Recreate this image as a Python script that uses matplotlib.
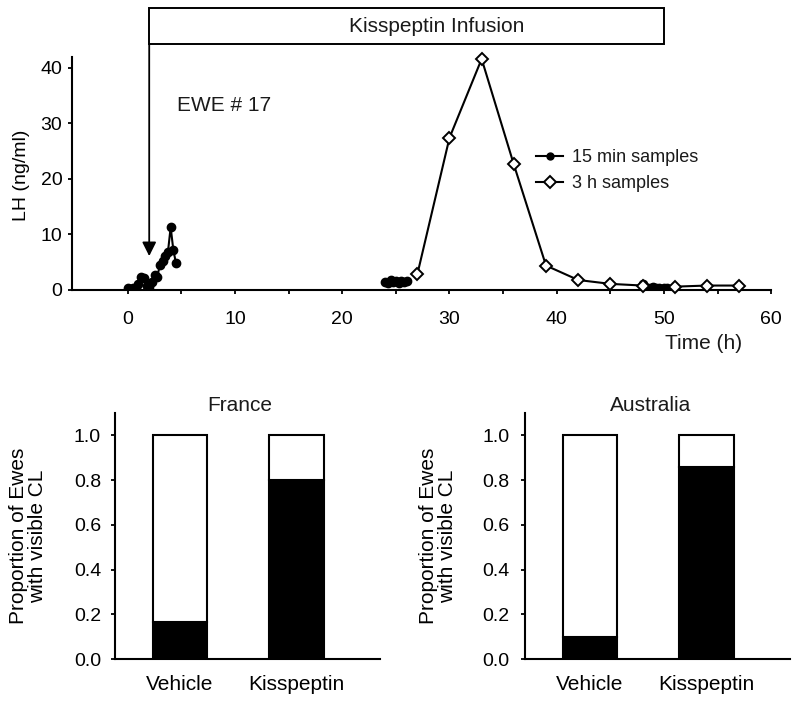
import matplotlib
matplotlib.use("Agg")
import matplotlib.pyplot as plt
from matplotlib.patches import Rectangle
from matplotlib.lines import Line2D

plt.rcParams['font.family'] = ['Liberation Sans', 'DejaVu Sans']
plt.rcParams['text.color'] = '#1a1a1a'

# 1) data -----------------------------------------------------------------
# LH (ng/ml), 15 min samples, three sampling windows
t_15a = [0, 0.25, 0.5, 0.75, 1.0, 1.25, 1.5, 1.75, 2.0, 2.25,
         2.5, 2.75, 3.0, 3.25, 3.5, 3.75, 4.0, 4.25, 4.5]
lh_15a = [0.3, 0.2, 0.3, 0.4, 1.0, 2.4, 2.2, 0.8, 0.6, 1.5,
          2.7, 2.4, 4.5, 5.2, 6.2, 6.9, 11.3, 7.2, 4.8]
t_15b = [24, 24.25, 24.5, 24.75, 25, 25.25, 25.5, 25.75, 26]
lh_15b = [1.5, 1.2, 1.8, 1.4, 1.6, 1.3, 1.7, 1.5, 1.6]
t_15c = [48, 48.25, 48.5, 48.75, 49, 49.25, 49.5, 49.75, 50, 50.25]
lh_15c = [1.0, 0.6, 0.4, 0.3, 0.5, 0.3, 0.4, 0.2, 0.3, 0.4]

# LH, 3 h samples
t_3h = [27, 30, 33, 36, 39, 42, 45, 48, 51, 54, 57]
lh_3h = [2.8, 27.4, 41.6, 22.6, 4.4, 1.8, 1.1, 0.8, 0.6, 0.8, 0.8]

infusion_start = 2
infusion_end = 50

# proportion of ewes with visible CL
groups = ['Vehicle', 'Kisspeptin']
france = [0.167, 0.80]
australia = [0.10, 0.86]

# 2) figure ---------------------------------------------------------------
fig = plt.figure(figsize=(8, 7.03), dpi=100)

ax = fig.add_axes([0.09, 0.5875, 0.874, 0.3318])
for tt, yy in [(t_15a, lh_15a), (t_15b, lh_15b), (t_15c, lh_15c)]:
    ax.plot(tt, yy, color='k', lw=1.5, marker='o', ms=6, mfc='k', mec='k')
ax.plot(t_3h, lh_3h, color='k', lw=1.5, marker='D', ms=6.5,
        mfc='white', mec='k', mew=1.4, zorder=3, clip_on=False)

ax.set_xlim(-5.2, 60)
ax.set_ylim(0, 42)
ax.set_xticks(range(0, 61, 5))
ax.set_xticklabels([str(v) if v % 10 == 0 else '' for v in range(0, 61, 5)])
ax.set_yticks(range(0, 41, 10))
for s in ['top', 'right']:
    ax.spines[s].set_visible(False)
for s in ['left', 'bottom']:
    ax.spines[s].set_linewidth(1.5)
ax.tick_params(axis='x', length=3, width=1.3, pad=12, labelsize=14)
ax.tick_params(axis='y', length=3, width=1.3, pad=4, labelsize=14)
ax.set_ylabel('LH (ng/ml)', fontsize=14)
ax.yaxis.set_label_coords(-0.06, 0.49)
ax.text(0.903, -0.19, 'Time (h)', transform=ax.transAxes, ha='center',
        va='top', fontsize=15)

# infusion box + arrow
ax.add_patch(Rectangle((infusion_start, 44.3), infusion_end - infusion_start,
                       6.4, facecolor='white', edgecolor='k', lw=1.4,
                       clip_on=False))
ax.text(28.8, 47.5, 'Kisspeptin Infusion', ha='center', va='center',
        fontsize=15)
ax.annotate('', xy=(infusion_start, 6.1), xytext=(infusion_start, 44.3),
            arrowprops=dict(arrowstyle='-|>', color='k', lw=1.3,
                            mutation_scale=21, shrinkA=0, shrinkB=0),
            annotation_clip=False)
ax.text(4.6, 33.3, 'EWE # 17', ha='left', va='center', fontsize=15)

handles = [Line2D([], [], color='k', lw=1.5, marker='o', ms=5),
           Line2D([], [], color='k', lw=1.5, marker='D', ms=6.5,
                  mfc='white', mew=1.4)]
ax.legend(handles, ['15 min samples', '3 h samples'], loc='center left',
          bbox_to_anchor=(0.664, 0.512), frameon=False, fontsize=13,
          handlelength=1.5, handletextpad=0.5, borderpad=0,
          borderaxespad=0, labelspacing=0.5)

# 3) bar panels -----------------------------------------------------------
def bar_panel(rect, vals, title, ypad, label_x):
    a = fig.add_axes(rect)
    x = range(len(groups))
    a.bar(x, vals, width=0.47, color='k', edgecolor='k', lw=1.5)
    a.bar(x, [1 - v for v in vals], bottom=vals, width=0.47,
          color='white', edgecolor='k', lw=1.5)
    a.set_xlim(-0.56, 1.72)
    a.set_ylim(0, 1.1)
    a.set_yticks([0, 0.2, 0.4, 0.6, 0.8, 1.0])
    a.set_yticklabels(['0.0', '0.2', '0.4', '0.6', '0.8', '1.0'])
    a.set_xticks(list(x))
    a.set_xticklabels(groups)
    for s in ['top', 'right']:
        a.spines[s].set_visible(False)
    for s in ['left', 'bottom']:
        a.spines[s].set_linewidth(1.5)
    a.tick_params(axis='x', length=0, pad=11, labelsize=15)
    a.tick_params(axis='y', length=3, width=1.3, pad=ypad, labelsize=14)
    a.set_ylabel('Proportion of Ewes\nwith visible CL', fontsize=15,
                 linespacing=1.05)
    a.yaxis.set_label_coords(label_x, 0.5)
    a.text(0.472, 1.03, title, transform=a.transAxes, ha='center',
           va='center', fontsize=15)
    return a

bar_panel([0.14375, 0.0622, 0.33125, 0.3504], france, 'France', 7, -0.255)
bar_panel([0.65625, 0.0622, 0.33125, 0.3504], australia, 'Australia', 8, -0.255)

fig.savefig('out.png', dpi=100)
